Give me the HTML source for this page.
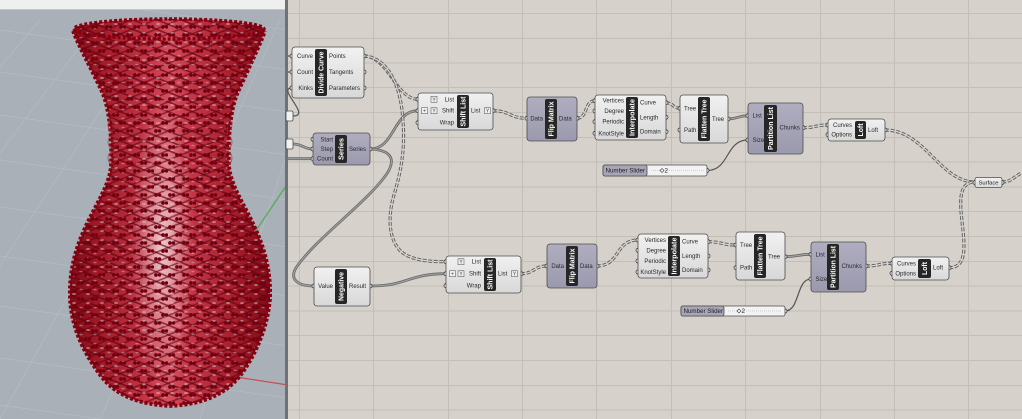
<!DOCTYPE html>
<html><head><meta charset="utf-8">
<style>
html,body{margin:0;padding:0;width:1022px;height:419px;overflow:hidden;background:#d6d2cb;position:relative}
svg{display:block;position:absolute;left:0;top:0}
text{font-family:"Liberation Sans","DejaVu Sans",sans-serif}
.pl{font-size:6px;fill:#2a2a2a}
.st{font-size:7.5px;font-weight:bold;fill:#fff}
.nb{stroke:#4d4d4d;stroke-width:.8}
.grip{fill:#f4f4f4;stroke:#333;stroke-width:.8}
.tw{fill:none;stroke:#666;stroke-width:3.2;stroke-dasharray:4 1.6}
.tw2{fill:none;stroke:#dedede;stroke-width:1.1;stroke-dasharray:4 1.6}
.lw{fill:none;stroke:#6c6c6c;stroke-width:2.8}
.lw2{fill:none;stroke:#a4a4a4;stroke-width:1}
.iw{fill:none;stroke:#555;stroke-width:1.2}
.ic{fill:#efefef;stroke:#666;stroke-width:.6}
.it{font-size:5px;fill:#444}
</style></head><body>
<svg width="1022" height="419" viewBox="0 0 1022 419" xmlns="http://www.w3.org/2000/svg">
<defs>
<linearGradient id="gL" x1="0" y1="0" x2="0" y2="1"><stop offset="0" stop-color="#f1f1f1"/><stop offset="1" stop-color="#d8d8d8"/></linearGradient>
<linearGradient id="gP" x1="0" y1="0" x2="0" y2="1"><stop offset="0" stop-color="#afadbf"/><stop offset="1" stop-color="#9b99ad"/></linearGradient>
<linearGradient id="vg" gradientUnits="userSpaceOnUse" x1="68" y1="0" x2="272" y2="0">
<stop offset="0" stop-color="#7e0a14"/><stop offset=".15" stop-color="#a01a26"/><stop offset=".42" stop-color="#c83a4a"/><stop offset=".5" stop-color="#d4505e"/><stop offset=".58" stop-color="#c83a4a"/><stop offset=".85" stop-color="#a01a26"/><stop offset="1" stop-color="#7e0a14"/></linearGradient>
<radialGradient id="hl" cx=".5" cy=".5" r=".5"><stop offset="0" stop-color="#fff" stop-opacity=".7"/><stop offset=".6" stop-color="#fff" stop-opacity=".25"/><stop offset="1" stop-color="#fff" stop-opacity="0"/></radialGradient>
<clipPath id="vc">
<path d="M73,31 C78,45 92,70 102,92 C110,110 112,140 111,165 C110,185 95,205 84,230 C74,252 69,275 70,298 C71,325 82,350 98,372 C110,390 130,404 170,406 C210,404 230,390 243,372 C258,350 268,325 270,298 C271,275 266,252 256,230 C245,205 230,185 229,165 C228,140 230,110 238,92 C248,70 260,45 265,31 Z"/>
<ellipse cx="169" cy="30" rx="96" ry="11"/>
</clipPath>
<pattern id="mA" width="9" height="9" patternUnits="userSpaceOnUse" patternTransform="rotate(22)"><line x1="0" y1="4.5" x2="9" y2="4.5" stroke="#650010" stroke-width="1.5" stroke-opacity=".75"/></pattern>
<pattern id="mB" width="9" height="9" patternUnits="userSpaceOnUse" patternTransform="rotate(-22)"><line x1="0" y1="4.5" x2="9" y2="4.5" stroke="#650010" stroke-width="1.5" stroke-opacity=".65"/></pattern>
<pattern id="dots" width="14" height="16" patternUnits="userSpaceOnUse">
<circle cx="2" cy="3" r="1.9" fill="#700010"/><circle cx="5.5" cy="3" r="1.7" fill="#700010"/>
<circle cx="9" cy="11" r="1.9" fill="#700010"/><circle cx="12.5" cy="11" r="1.7" fill="#700010"/>
</pattern>
<pattern id="holes" width="14" height="9" patternUnits="userSpaceOnUse">
<ellipse cx="4" cy="6" rx="2" ry=".9" fill="#cfc8d0" fill-opacity=".6"/>
<ellipse cx="11" cy="1.5" rx="1.7" ry=".8" fill="#cfc8d0" fill-opacity=".45"/>
</pattern>
<!-- wires -->
<path id="t1" d="M364,56 C388,56 396,99.3 418,99.3"/>
<path id="t2" d="M364,56 C384,57 398,78 402,110 C406,145 402,168 394,195 C386,222 390,248 408,256 C420,261 432,261.7 446,261.7"/>
<path id="t3" d="M493,110.7 C510,110.7 510,118.3 527,118.3"/>
<path id="t4" d="M577,118.3 C588,118.3 584,100.7 595,100.7"/>
<path id="t5" d="M666,102.7 C673,102.7 673,108.3 680,108.3"/>
<path id="t6" d="M803,127.7 C815,127.7 816,125 828,125"/>
<path id="t7" d="M885,130 C925,130 940,182 975,182"/>
<path id="t8" d="M949,267.7 C985,267.7 940,182 975,182"/>
<path id="t9" d="M1002,182 C1012,182 1014,176 1022,173"/>
<path id="t10" d="M521,273.7 C534,273.7 534,266 547,266"/>
<path id="t11" d="M597,266 C620,266 615,240 638,240"/>
<path id="t12" d="M708,241.7 C722,241.7 722,245 736,245"/>
<path id="t13" d="M866,266 C879,266 879,263.3 892,263.3"/>
<path id="l1" d="M370,149 C395,149 393,110.7 418,110.7"/>
<path id="l2" d="M370,149 C390,150 396,158 388,172 C370,200 320,235 298,265 C288,278 296,286 314,286"/>
<path id="l3" d="M370,286 C408,286 408,273.7 446,273.7"/>
<path id="l4" d="M728,119 C738,119 738,115.7 748,115.7"/>
<path id="l5" d="M785,256.7 C798,256.7 798,254.3 811,254.3"/>
<path id="l6" d="M293,144 C303,144 303,149 313,149"/>
<path id="l7" d="M288,158.7 L313,158.7"/>
</defs>

<!-- Viewport -->
<rect x="0" y="0" width="288" height="419" fill="#a9b0b8"/>
<g stroke="#b9bfc6" stroke-width=".7" opacity=".8" fill="none">
<line x1="0" y1="-10" x2="288" y2="30"/><line x1="0" y1="30" x2="288" y2="70"/>
<line x1="0" y1="72" x2="288" y2="112"/><line x1="0" y1="115" x2="288" y2="155"/>
<line x1="0" y1="160" x2="288" y2="200"/><line x1="0" y1="207" x2="288" y2="247"/>
<line x1="0" y1="256" x2="288" y2="296"/><line x1="0" y1="306" x2="288" y2="346"/>
<line x1="0" y1="358" x2="288" y2="398"/><line x1="0" y1="405" x2="100" y2="419"/>
<line x1="-300" y1="419" x2="40" y2="20"/><line x1="-200" y1="419" x2="100" y2="20"/>
<line x1="-100" y1="419" x2="160" y2="20"/><line x1="0" y1="419" x2="220" y2="20"/>
<line x1="100" y1="419" x2="280" y2="20"/><line x1="200" y1="419" x2="288" y2="150"/>
</g>
<line x1="255" y1="232" x2="288" y2="183" stroke="#4fae4f" stroke-width="1.2"/>
<line x1="236" y1="377" x2="288" y2="385" stroke="#c4504d" stroke-width="1.2"/>
<rect x="0" y="0" width="288" height="9" fill="#efefef"/>
<line x1="0" y1="9.5" x2="288" y2="9.5" stroke="#c4c6c9" stroke-width="1"/>

<!-- Vase -->
<g clip-path="url(#vc)">
<rect x="60" y="15" width="220" height="395" fill="url(#vg)"/>
<ellipse cx="162" cy="245" rx="32" ry="150" fill="url(#hl)"/>
<rect x="60" y="15" width="220" height="395" fill="url(#mA)"/>
<rect x="60" y="15" width="220" height="395" fill="url(#mB)"/>
<rect x="60" y="15" width="220" height="395" fill="url(#holes)"/>
<rect x="60" y="15" width="220" height="395" fill="url(#dots)"/>
</g>
<path d="M73,31 C78,45 92,70 102,92 C110,110 112,140 111,165 C110,185 95,205 84,230 C74,252 69,275 70,298 C71,325 82,350 98,372 C110,390 130,404 170,406 C210,404 230,390 243,372 C258,350 268,325 270,298 C271,275 266,252 256,230 C245,205 230,185 229,165 C228,140 230,110 238,92 C248,70 260,45 265,31" fill="none" stroke="#860010" stroke-width="3.8" stroke-dasharray="3 2"/>
<ellipse cx="169" cy="29" rx="95" ry="10" fill="none" stroke="#860010" stroke-width="3.5" stroke-dasharray="3 2"/>
<g fill="none" stroke="#a83040" stroke-width=".8" opacity=".8">
<ellipse cx="112" cy="125" rx="4" ry="6"/><ellipse cx="112" cy="142" rx="4" ry="6"/><ellipse cx="112" cy="158" rx="4" ry="6"/>
<ellipse cx="228" cy="125" rx="4" ry="6"/><ellipse cx="228" cy="142" rx="4" ry="6"/><ellipse cx="228" cy="158" rx="4" ry="6"/>
</g>

<!-- Separator -->
<rect x="285" y="0" width="3" height="419" fill="#6e7276"/>

<!-- Canvas -->
<rect x="288" y="0" width="734" height="419" fill="#d6d2cb"/>
<g stroke="#c3bfb7" stroke-width="1">
<line x1="299.5" y1="0" x2="299.5" y2="419"/><line x1="373.5" y1="0" x2="373.5" y2="419"/>
<line x1="448.5" y1="0" x2="448.5" y2="419"/><line x1="522.5" y1="0" x2="522.5" y2="419"/>
<line x1="596.5" y1="0" x2="596.5" y2="419"/><line x1="671.5" y1="0" x2="671.5" y2="419"/>
<line x1="745.5" y1="0" x2="745.5" y2="419"/><line x1="820.5" y1="0" x2="820.5" y2="419"/>
<line x1="894.5" y1="0" x2="894.5" y2="419"/><line x1="968.5" y1="0" x2="968.5" y2="419"/>
<line x1="288" y1="13.5" x2="1022" y2="13.5"/><line x1="288" y1="38.5" x2="1022" y2="38.5"/>
<line x1="288" y1="63" x2="1022" y2="63"/><line x1="288" y1="87.5" x2="1022" y2="87.5"/>
<line x1="288" y1="112.5" x2="1022" y2="112.5"/><line x1="288" y1="137.5" x2="1022" y2="137.5"/>
<line x1="288" y1="162" x2="1022" y2="162"/><line x1="288" y1="187" x2="1022" y2="187"/>
<line x1="288" y1="211.5" x2="1022" y2="211.5"/><line x1="288" y1="236.5" x2="1022" y2="236.5"/>
<line x1="288" y1="261.5" x2="1022" y2="261.5"/><line x1="288" y1="286" x2="1022" y2="286"/>
<line x1="288" y1="311" x2="1022" y2="311"/><line x1="288" y1="335.5" x2="1022" y2="335.5"/>
<line x1="288" y1="360.5" x2="1022" y2="360.5"/><line x1="288" y1="385.5" x2="1022" y2="385.5"/>
<line x1="288" y1="410" x2="1022" y2="410"/>
</g>

<!-- Wires -->
<use href="#l1" class="lw"/><use href="#l1" class="lw2"/>
<use href="#l2" class="lw"/><use href="#l2" class="lw2"/>
<use href="#l3" class="lw"/><use href="#l3" class="lw2"/>
<use href="#l4" class="lw"/><use href="#l4" class="lw2"/>
<use href="#l5" class="lw"/><use href="#l5" class="lw2"/>
<use href="#l6" class="lw"/><use href="#l6" class="lw2"/>
<use href="#l7" class="lw"/><use href="#l7" class="lw2"/>
<path class="iw" d="M707,170.5 C730,170.5 725,140 748,140"/>
<path class="iw" d="M785,311 C800,311 796,279 811,279"/>
<path class="iw" d="M288,56 L292,56 M288,72 L292,72"/>
<path class="iw" d="M293,116 C312,116 276,88 292,88"/>
<g>
<use href="#t1" class="tw"/><use href="#t1" class="tw2"/>
<use href="#t2" class="tw"/><use href="#t2" class="tw2"/>
<use href="#t3" class="tw"/><use href="#t3" class="tw2"/>
<use href="#t4" class="tw"/><use href="#t4" class="tw2"/>
<use href="#t5" class="tw"/><use href="#t5" class="tw2"/>
<use href="#t6" class="tw"/><use href="#t6" class="tw2"/>
<use href="#t7" class="tw"/><use href="#t7" class="tw2"/>
<use href="#t8" class="tw"/><use href="#t8" class="tw2"/>
<use href="#t9" class="tw"/><use href="#t9" class="tw2"/>
<use href="#t10" class="tw"/><use href="#t10" class="tw2"/>
<use href="#t11" class="tw"/><use href="#t11" class="tw2"/>
<use href="#t12" class="tw"/><use href="#t12" class="tw2"/>
<use href="#t13" class="tw"/><use href="#t13" class="tw2"/>
</g>

<!-- Left-edge partial boxes -->
<rect x="286" y="111" width="7" height="10" rx="1.5" fill="#f2f2f2" class="nb"/>
<rect x="286" y="139" width="7" height="10" rx="1.5" fill="#f2f2f2" class="nb"/>

<!-- Divide Curve -->
<g>
<circle class="grip" cx="292" cy="56" r="2"/><circle class="grip" cx="292" cy="72" r="2"/><circle class="grip" cx="292" cy="88" r="2"/>
<circle class="grip" cx="364" cy="56" r="2"/><circle class="grip" cx="364" cy="72" r="2"/><circle class="grip" cx="364" cy="88" r="2"/>
<rect x="292" y="47" width="72" height="51" rx="3" fill="url(#gL)" class="nb"/>
<rect x="315" y="49" width="12" height="47" rx="2" fill="#262626"/>
<text class="st" transform="translate(321,72.5) rotate(-90)" x="0" y="2.7" text-anchor="middle" textLength="42" lengthAdjust="spacingAndGlyphs">Divide Curve</text>
<text class="pl" x="313" y="58" text-anchor="end">Curve</text>
<text class="pl" x="313" y="74" text-anchor="end">Count</text>
<text class="pl" x="313" y="90" text-anchor="end">Kinks</text>
<text class="pl" x="329" y="58">Points</text>
<text class="pl" x="329" y="74">Tangents</text>
<text class="pl" x="329" y="90">Parameters</text>
</g>

<!-- Shift List top -->
<g>
<circle class="grip" cx="418" cy="99.3" r="2"/><circle class="grip" cx="418" cy="110.7" r="2"/><circle class="grip" cx="418" cy="122.7" r="2"/>
<circle class="grip" cx="493" cy="110.7" r="2"/>
<rect x="418" y="93" width="75" height="37" rx="3" fill="url(#gL)" class="nb"/>
<rect x="457" y="95" width="12" height="33" rx="2" fill="#262626"/>
<text class="st" transform="translate(463,111.5) rotate(-90)" x="0" y="2.7" text-anchor="middle" textLength="30" lengthAdjust="spacingAndGlyphs">Shift List</text>
<text class="pl" x="454" y="101.3" text-anchor="end">List</text>
<text class="pl" x="454" y="112.7" text-anchor="end">Shift</text>
<text class="pl" x="454" y="124.7" text-anchor="end">Wrap</text>
<text class="pl" x="471" y="112.7">List</text>
<rect class="ic" x="431" y="96.3" width="6" height="6"/><text class="it" x="434" y="101.3" text-anchor="middle">Y</text>
<rect class="ic" x="431" y="107.7" width="6" height="6"/><text class="it" x="434" y="112.7" text-anchor="middle">Y</text>
<rect class="ic" x="421.5" y="107.7" width="6" height="6"/><text class="it" x="424.5" y="112.7" text-anchor="middle">+</text>
<rect class="ic" x="484.5" y="107.7" width="6" height="6"/><text class="it" x="487.5" y="112.7" text-anchor="middle">Y</text>
</g>

<!-- Series -->
<g>
<circle class="grip" cx="313" cy="139.3" r="2"/><circle class="grip" cx="313" cy="149" r="2"/><circle class="grip" cx="313" cy="158.7" r="2"/>
<circle class="grip" cx="370" cy="149" r="2"/>
<rect x="313" y="133" width="57" height="32" rx="3" fill="url(#gP)" class="nb"/>
<rect x="335" y="135" width="12" height="28" rx="2" fill="#262626"/>
<text class="st" transform="translate(341,149) rotate(-90)" x="0" y="2.7" text-anchor="middle" textLength="22" lengthAdjust="spacingAndGlyphs">Series</text>
<text class="pl" x="333" y="141.3" text-anchor="end">Start</text>
<text class="pl" x="333" y="151" text-anchor="end">Step</text>
<text class="pl" x="333" y="160.7" text-anchor="end">Count</text>
<text class="pl" x="349" y="151">Series</text>
</g>

<!-- Flip Matrix top -->
<g>
<circle class="grip" cx="527" cy="118.3" r="2"/><circle class="grip" cx="577" cy="118.3" r="2"/>
<rect x="527" y="97" width="50" height="44" rx="3" fill="url(#gP)" class="nb"/>
<rect x="545" y="99" width="12" height="40" rx="2" fill="#262626"/>
<text class="st" transform="translate(551,119) rotate(-90)" x="0" y="2.7" text-anchor="middle" textLength="35" lengthAdjust="spacingAndGlyphs">Flip Matrix</text>
<text class="pl" x="543" y="120.3" text-anchor="end">Data</text>
<text class="pl" x="559" y="120.3">Data</text>
</g>

<!-- Interpolate top -->
<g>
<circle class="grip" cx="595" cy="100.7" r="2"/><circle class="grip" cx="595" cy="111" r="2"/><circle class="grip" cx="595" cy="121.7" r="2"/><circle class="grip" cx="595" cy="133.3" r="2"/>
<circle class="grip" cx="666" cy="102.7" r="2"/><circle class="grip" cx="666" cy="117.3" r="2"/><circle class="grip" cx="666" cy="131.7" r="2"/>
<rect x="595" y="95" width="71" height="45" rx="3" fill="url(#gL)" class="nb"/>
<rect x="626" y="97" width="12" height="41" rx="2" fill="#262626"/>
<text class="st" transform="translate(632,117.5) rotate(-90)" x="0" y="2.7" text-anchor="middle" textLength="37" lengthAdjust="spacingAndGlyphs">Interpolate</text>
<text class="pl" x="624" y="102.7" text-anchor="end">Vertices</text>
<text class="pl" x="624" y="113" text-anchor="end">Degree</text>
<text class="pl" x="624" y="123.7" text-anchor="end">Periodic</text>
<text class="pl" x="624" y="135.3" text-anchor="end">KnotStyle</text>
<text class="pl" x="640" y="104.7">Curve</text>
<text class="pl" x="640" y="119.3">Length</text>
<text class="pl" x="640" y="133.7">Domain</text>
</g>

<!-- Flatten Tree top -->
<g>
<circle class="grip" cx="680" cy="108.3" r="2"/><circle class="grip" cx="680" cy="130" r="2"/>
<circle class="grip" cx="728" cy="119" r="2"/>
<rect x="680" y="95" width="48" height="48" rx="3" fill="url(#gL)" class="nb"/>
<rect x="698" y="97" width="12" height="44" rx="2" fill="#262626"/>
<text class="st" transform="translate(704,119) rotate(-90)" x="0" y="2.7" text-anchor="middle" textLength="39" lengthAdjust="spacingAndGlyphs">Flatten Tree</text>
<text class="pl" x="684" y="110.3">Tree</text>
<text class="pl" x="684" y="132">Path</text>
<text class="pl" x="712" y="121">Tree</text>
</g>

<!-- Partition List top -->
<g>
<circle class="grip" cx="748" cy="115.7" r="2"/><circle class="grip" cx="748" cy="140" r="2"/>
<circle class="grip" cx="803" cy="127.7" r="2"/>
<rect x="748" y="103" width="55" height="51" rx="3" fill="url(#gP)" class="nb"/>
<rect x="764" y="105" width="13" height="47" rx="2" fill="#262626"/>
<text class="st" transform="translate(770.5,128.5) rotate(-90)" x="0" y="2.7" text-anchor="middle" textLength="43" lengthAdjust="spacingAndGlyphs">Partition List</text>
<text class="pl" x="752.5" y="117.7">List</text>
<text class="pl" x="752.5" y="142">Size</text>
<text class="pl" x="779.5" y="129.7">Chunks</text>
</g>

<!-- Number Slider top -->
<g>
<circle class="grip" cx="707" cy="170.5" r="2"/>
<rect x="603" y="165" width="104" height="11" rx="2" fill="#f3f3f3" class="nb"/>
<rect x="603" y="165" width="44" height="11" rx="2" fill="#a7a5b7" class="nb"/>
<text x="605.5" y="172.7" style="font-size:6.2px;fill:#222">Number Slider</text>
<line x1="651" y1="170.5" x2="704" y2="170.5" stroke="#aaa" stroke-width=".6" stroke-dasharray="1 1"/>
<polygon points="660,170.5 662,168.5 664,170.5 662,172.5" fill="#fff" stroke="#333" stroke-width=".6"/>
<text x="664.5" y="172.7" style="font-size:6.2px;fill:#222">2</text>
</g>

<!-- Loft top -->
<g>
<circle class="grip" cx="828" cy="125" r="2"/><circle class="grip" cx="828" cy="134.7" r="2"/>
<circle class="grip" cx="885" cy="130" r="2"/>
<rect x="828" y="119" width="57" height="22" rx="3" fill="url(#gL)" class="nb"/>
<rect x="855" y="121" width="11" height="18" rx="2" fill="#262626"/>
<text class="st" transform="translate(860.5,130) rotate(-90)" x="0" y="2.7" text-anchor="middle" textLength="13" lengthAdjust="spacingAndGlyphs">Loft</text>
<text class="pl" x="852" y="127" text-anchor="end">Curves</text>
<text class="pl" x="852" y="136.7" text-anchor="end">Options</text>
<text class="pl" x="868" y="132">Loft</text>
</g>

<!-- Surface -->
<g>
<circle class="grip" cx="975" cy="182.5" r="2"/><circle class="grip" cx="1002" cy="182.5" r="2"/>
<rect x="975" y="177.5" width="27" height="10" rx="2" fill="url(#gL)" class="nb"/>
<text x="988.5" y="184.6" text-anchor="middle" style="font-size:5.8px;fill:#222">Surface</text>
</g>

<!-- Negative -->
<g>
<circle class="grip" cx="314" cy="286" r="2"/><circle class="grip" cx="370" cy="286" r="2"/>
<rect x="314" y="267" width="56" height="39" rx="3" fill="url(#gL)" class="nb"/>
<rect x="335" y="269" width="12" height="35" rx="2" fill="#262626"/>
<text class="st" transform="translate(341,286.5) rotate(-90)" x="0" y="2.7" text-anchor="middle" textLength="29" lengthAdjust="spacingAndGlyphs">Negative</text>
<text class="pl" x="333" y="288" text-anchor="end">Value</text>
<text class="pl" x="349" y="288">Result</text>
</g>

<!-- Shift List bottom -->
<g>
<circle class="grip" cx="446" cy="261.7" r="2"/><circle class="grip" cx="446" cy="273.7" r="2"/><circle class="grip" cx="446" cy="285.7" r="2"/>
<circle class="grip" cx="521" cy="273.7" r="2"/>
<rect x="446" y="256" width="75" height="37" rx="3" fill="url(#gL)" class="nb"/>
<rect x="484" y="258" width="12" height="33" rx="2" fill="#262626"/>
<text class="st" transform="translate(490,274.5) rotate(-90)" x="0" y="2.7" text-anchor="middle" textLength="30" lengthAdjust="spacingAndGlyphs">Shift List</text>
<text class="pl" x="481" y="263.7" text-anchor="end">List</text>
<text class="pl" x="481" y="275.7" text-anchor="end">Shift</text>
<text class="pl" x="481" y="287.7" text-anchor="end">Wrap</text>
<text class="pl" x="498" y="275.7">List</text>
<rect class="ic" x="458" y="258.7" width="6" height="6"/><text class="it" x="461" y="263.7" text-anchor="middle">Y</text>
<rect class="ic" x="458" y="270.7" width="6" height="6"/><text class="it" x="461" y="275.7" text-anchor="middle">Y</text>
<rect class="ic" x="449.5" y="270.7" width="6" height="6"/><text class="it" x="452.5" y="275.7" text-anchor="middle">+</text>
<rect class="ic" x="511.5" y="270.7" width="6" height="6"/><text class="it" x="514.5" y="275.7" text-anchor="middle">Y</text>
</g>

<!-- Flip Matrix bottom -->
<g>
<circle class="grip" cx="547" cy="266" r="2"/><circle class="grip" cx="597" cy="266" r="2"/>
<rect x="547" y="244" width="50" height="44" rx="3" fill="url(#gP)" class="nb"/>
<rect x="566" y="246" width="12" height="40" rx="2" fill="#262626"/>
<text class="st" transform="translate(572,266) rotate(-90)" x="0" y="2.7" text-anchor="middle" textLength="35" lengthAdjust="spacingAndGlyphs">Flip Matrix</text>
<text class="pl" x="564" y="268" text-anchor="end">Data</text>
<text class="pl" x="580" y="268">Data</text>
</g>

<!-- Interpolate bottom -->
<g>
<circle class="grip" cx="638" cy="240" r="2"/><circle class="grip" cx="638" cy="250.3" r="2"/><circle class="grip" cx="638" cy="261" r="2"/><circle class="grip" cx="638" cy="272" r="2"/>
<circle class="grip" cx="708" cy="241.7" r="2"/><circle class="grip" cx="708" cy="256" r="2"/><circle class="grip" cx="708" cy="270" r="2"/>
<rect x="638" y="234" width="70" height="44" rx="3" fill="url(#gL)" class="nb"/>
<rect x="668" y="236" width="12" height="40" rx="2" fill="#262626"/>
<text class="st" transform="translate(674,256) rotate(-90)" x="0" y="2.7" text-anchor="middle" textLength="37" lengthAdjust="spacingAndGlyphs">Interpolate</text>
<text class="pl" x="666" y="242" text-anchor="end">Vertices</text>
<text class="pl" x="666" y="252.3" text-anchor="end">Degree</text>
<text class="pl" x="666" y="263" text-anchor="end">Periodic</text>
<text class="pl" x="666" y="274" text-anchor="end">KnotStyle</text>
<text class="pl" x="682" y="243.7">Curve</text>
<text class="pl" x="682" y="258">Length</text>
<text class="pl" x="682" y="272">Domain</text>
</g>

<!-- Flatten Tree bottom -->
<g>
<circle class="grip" cx="736" cy="245" r="2"/><circle class="grip" cx="736" cy="267.7" r="2"/>
<circle class="grip" cx="785" cy="256.7" r="2"/>
<rect x="736" y="232" width="49" height="48" rx="3" fill="url(#gL)" class="nb"/>
<rect x="754" y="234" width="12" height="44" rx="2" fill="#262626"/>
<text class="st" transform="translate(760,256) rotate(-90)" x="0" y="2.7" text-anchor="middle" textLength="39" lengthAdjust="spacingAndGlyphs">Flatten Tree</text>
<text class="pl" x="740" y="247">Tree</text>
<text class="pl" x="740" y="269.7">Path</text>
<text class="pl" x="768" y="258.7">Tree</text>
</g>

<!-- Number Slider bottom -->
<g>
<circle class="grip" cx="785" cy="311" r="2"/>
<rect x="681" y="306" width="104" height="10" rx="2" fill="#f3f3f3" class="nb"/>
<rect x="681" y="306" width="43" height="10" rx="2" fill="#a7a5b7" class="nb"/>
<text x="683.5" y="313.2" style="font-size:6.2px;fill:#222">Number Slider</text>
<line x1="728" y1="311" x2="782" y2="311" stroke="#aaa" stroke-width=".6" stroke-dasharray="1 1"/>
<polygon points="737,311 739,309 741,311 739,313" fill="#fff" stroke="#333" stroke-width=".6"/>
<text x="741.5" y="313.2" style="font-size:6.2px;fill:#222">2</text>
</g>

<!-- Partition List bottom -->
<g>
<circle class="grip" cx="811" cy="254.3" r="2"/><circle class="grip" cx="811" cy="279" r="2"/>
<circle class="grip" cx="866" cy="266" r="2"/>
<rect x="811" y="242" width="55" height="50" rx="3" fill="url(#gP)" class="nb"/>
<rect x="827" y="244" width="12" height="46" rx="2" fill="#262626"/>
<text class="st" transform="translate(833,267) rotate(-90)" x="0" y="2.7" text-anchor="middle" textLength="42" lengthAdjust="spacingAndGlyphs">Partition List</text>
<text class="pl" x="815.5" y="256.3">List</text>
<text class="pl" x="815.5" y="281">Size</text>
<text class="pl" x="841.5" y="268">Chunks</text>
</g>

<!-- Loft bottom -->
<g>
<circle class="grip" cx="892" cy="263.3" r="2"/><circle class="grip" cx="892" cy="273.3" r="2"/>
<circle class="grip" cx="949" cy="267.7" r="2"/>
<rect x="892" y="257" width="57" height="23" rx="3" fill="url(#gL)" class="nb"/>
<rect x="918" y="259" width="13" height="19" rx="2" fill="#262626"/>
<text class="st" transform="translate(924.5,268.5) rotate(-90)" x="0" y="2.7" text-anchor="middle" textLength="13" lengthAdjust="spacingAndGlyphs">Loft</text>
<text class="pl" x="916" y="265.3" text-anchor="end">Curves</text>
<text class="pl" x="916" y="275.3" text-anchor="end">Options</text>
<text class="pl" x="933" y="269.7">Loft</text>
</g>
</svg>
</body></html>
